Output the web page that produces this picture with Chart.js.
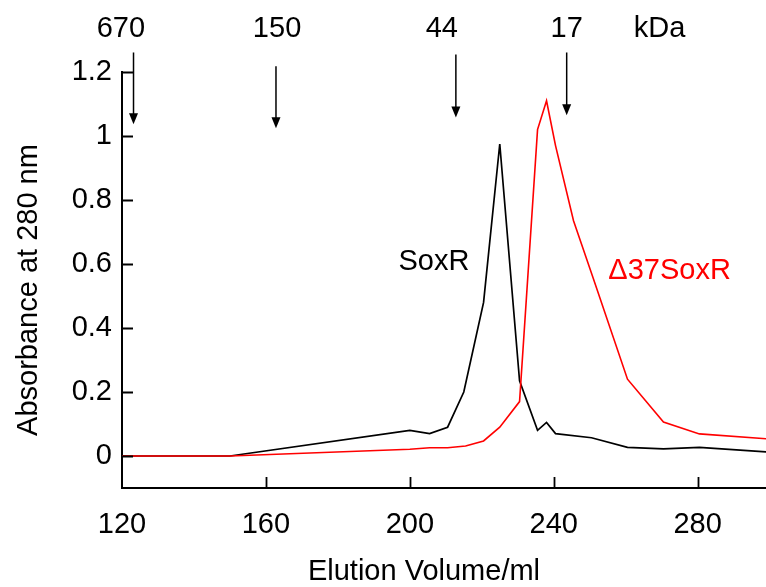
<!DOCTYPE html>
<html>
<head>
<meta charset="utf-8">
<script src="https://cdn.jsdelivr.net/npm/chart.js@4.4.0/dist/chart.umd.min.js"></script>
<style>
  html, body { margin: 0; padding: 0; background: #ffffff; }
  #wrap { width: 766px; height: 587px; position: relative; }
</style>
</head>
<body>
<div id="wrap"><canvas id="chart"></canvas></div>
<script>
// Gel filtration elution profiles (absorbance at 280 nm)
const soxrVolume = [120, 150, 200, 205.5, 210.5, 215, 220.5, 225, 230.5, 235.5, 238, 240.5, 250.5, 260.5, 270.5, 280.5, 300];
const soxrAbs    = [0, 0, 0.08, 0.07, 0.09, 0.2, 0.48, 0.975, 0.235, 0.08, 0.105, 0.07, 0.057, 0.027, 0.022, 0.027, 0.012];

const deltaVolume = [120, 150, 200, 205.5, 210.5, 215.5, 220.5, 225, 230.5, 235.5, 238, 240.5, 245.5, 251, 260.5, 270.5, 280.5, 300];
const deltaAbs    = [0, 0, 0.021, 0.026, 0.026, 0.031, 0.047, 0.09, 0.17, 1.02, 1.11, 0.97, 0.735, 0.555, 0.24, 0.106, 0.069, 0.053];

// Axis ticks
const xTickValues = [120, 160, 200, 240, 280];
const yTickValues = [0, 0.2, 0.4, 0.6, 0.8, 1, 1.2];
const yTickLabels = ['0', '0.2', '0.4', '0.6', '0.8', '1', '1.2'];

// Molecular-weight standards (kDa) and their elution positions
const markerNames      = ['670', '150', '44', '17', 'kDa'];
const markerNameVolume = [119.7, 163.1, 208.9, 243.6, 269.4];
const markerNameLevel  = 1.333;
const arrowVolume = [123.2, 162.8, 212.8, 243.6];
const arrowTop    = [1.261, 1.218, 1.255, 1.261];
const arrowTip    = [1.037, 1.024, 1.058, 1.065];

// Series name labels placed beside their peaks
const seriesNames  = ['SoxR', '\u039437SoxR'];
const seriesColors = ['#000000', '#ff0000'];
const seriesNameX  = [206.7, 272.2];
const seriesNameY  = [0.606, 0.578];

const FONT = "'Liberation Sans', Arial, sans-serif";
Chart.defaults.font.family = FONT;
Chart.defaults.color = '#000000';

const toPoints = (xs, ys) => xs.map((x, i) => ({ x: x, y: ys[i] }));

const decorations = {
  id: 'decorations',
  afterDraw(chart) {
    const ctx = chart.ctx;
    const xs = chart.scales.x;
    const ys = chart.scales.y;
    const area = chart.chartArea;
    ctx.save();

    // inward tick marks
    ctx.strokeStyle = '#000';
    ctx.lineWidth = 1.8;
    ctx.beginPath();
    yTickValues.forEach(v => {
      const py = Math.round(ys.getPixelForValue(v)) + 0.5;
      ctx.moveTo(area.left, py);
      ctx.lineTo(area.left + 11, py);
    });
    xTickValues.forEach(v => {
      if (v === xs.min) return;
      const px = Math.round(xs.getPixelForValue(v)) + 0.5;
      ctx.moveTo(px, area.bottom);
      ctx.lineTo(px, area.bottom - 11);
    });
    ctx.stroke();

    // axis titles
    ctx.fillStyle = '#000';
    ctx.font = '29px ' + FONT;
    ctx.textAlign = 'center';
    ctx.textBaseline = 'middle';
    ctx.fillText('Elution Volume/ml', 424, 572);
    ctx.save();
    ctx.translate(29, 290);
    ctx.rotate(-Math.PI / 2);
    ctx.fillText('Absorbance at 280 nm', 0, 0);
    ctx.restore();

    // standard labels
    markerNames.forEach((t, i) => {
      ctx.fillText(t, xs.getPixelForValue(markerNameVolume[i]), ys.getPixelForValue(markerNameLevel));
    });

    // standard arrows
    ctx.lineWidth = 1.5;
    arrowVolume.forEach((v, i) => {
      const px = xs.getPixelForValue(v);
      const top = ys.getPixelForValue(arrowTop[i]);
      const tip = ys.getPixelForValue(arrowTip[i]);
      ctx.beginPath();
      ctx.moveTo(px, top);
      ctx.lineTo(px, tip - 8);
      ctx.stroke();
      ctx.beginPath();
      ctx.moveTo(px - 4.5, tip - 11);
      ctx.lineTo(px + 4.5, tip - 11);
      ctx.lineTo(px, tip);
      ctx.closePath();
      ctx.fill();
    });

    // series names
    seriesNames.forEach((t, i) => {
      ctx.fillStyle = seriesColors[i];
      ctx.fillText(t, xs.getPixelForValue(seriesNameX[i]), ys.getPixelForValue(seriesNameY[i]));
    });

    ctx.restore();
  }
};

new Chart(document.getElementById('chart'), {
  type: 'line',
  data: {
    datasets: [
      {
        label: seriesNames[1],
        data: toPoints(deltaVolume, deltaAbs),
        borderColor: seriesColors[1],
        borderWidth: 1.6,
        pointRadius: 0,
        tension: 0,
        fill: false
      },
      {
        label: seriesNames[0],
        data: toPoints(soxrVolume, soxrAbs),
        borderColor: seriesColors[0],
        borderWidth: 1.7,
        pointRadius: 0,
        tension: 0,
        fill: false
      }
    ]
  },
  options: {
    responsive: true,
    maintainAspectRatio: false,
    animation: false,
    layout: { padding: { left: 0, right: 0, top: 72, bottom: 0 } },
    plugins: {
      legend: { display: false },
      tooltip: { enabled: false }
    },
    scales: {
      x: {
        type: 'linear',
        min: 120,
        max: 299,
        afterBuildTicks: s => { s.ticks = xTickValues.map(v => ({ value: v })); },
        afterFit: s => { s.height = 99; },
        grid: { display: true, drawOnChartArea: false, drawTicks: false },
        border: { display: true, color: '#000', width: 2 },
        ticks: {
          padding: 20,
          maxRotation: 0,
          autoSkip: false,
          font: { size: 29 },
          color: '#000',
          callback: v => String(v)
        }
      },
      y: {
        type: 'linear',
        min: -0.1,
        max: 1.2,
        afterBuildTicks: s => { s.ticks = yTickValues.map(v => ({ value: v })); },
        afterFit: s => { s.width = 122; },
        grid: { display: true, drawOnChartArea: false, drawTicks: false },
        border: { display: true, color: '#000', width: 2 },
        ticks: {
          padding: 10,
          autoSkip: false,
          font: { size: 29 },
          color: '#000',
          callback: (v) => {
            const i = yTickValues.findIndex(t => Math.abs(t - v) < 1e-9);
            return i >= 0 ? yTickLabels[i] : '';
          }
        }
      }
    }
  },
  plugins: [decorations]
});
</script>
</body>
</html>
